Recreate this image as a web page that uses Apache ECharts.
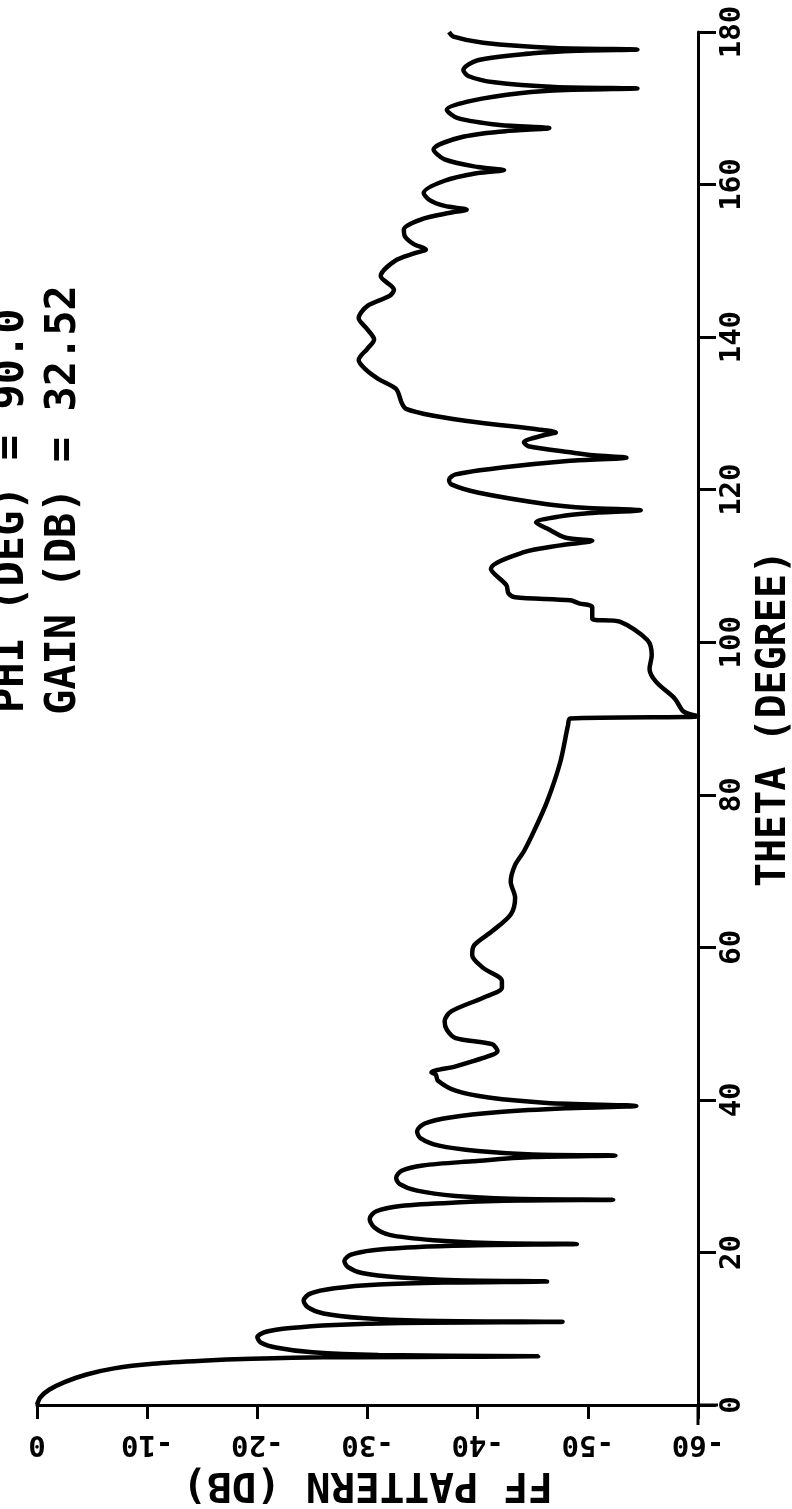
<!DOCTYPE html>
<html><head><meta charset="utf-8">
<script src="https://cdn.jsdelivr.net/npm/echarts@6/dist/echarts.min.js"></script>
<style>html,body{margin:0;padding:0;background:#fff}#c{width:792px;height:1509px}</style>
</head><body><div id="c"></div>
<script>
const thetaDeg = [0,1,2,3,4,4.8,5.4,5.8,6.05,6.25,6.4,6.55,6.9,7.5,8.2,8.9,9.6,10.1,10.5,10.75,10.9,11.05,11.4,12.0,12.8,13.7,14.6,15.3,15.8,16.05,16.2,16.35,16.7,17.3,18.1,18.9,19.7,20.3,20.75,20.95,21.1,21.25,21.6,22.3,23.3,24.4,25.4,26.1,26.55,26.8,26.9,27.05,27.4,28.1,29.0,29.8,30.7,31.4,31.95,32.5,32.7,32.85,33.3,34.0,35.0,35.9,36.9,37.7,38.4,38.9,39.2,39.6,40.3,41.2,42.5,43.3,43.6,44.4,45.5,46.4,47.3,48.1,49.2,50.3,51.6,53.4,54.7,55.6,57.3,59.0,60.3,62.1,64.3,66.5,68.6,70.8,72.6,75.2,79.1,84.3,89.1,90.0,90.3,90.9,92.6,94.8,96.5,98.3,100.3,102.7,103.1,104.6,105.1,105.5,105.9,106.4,107.5,109.6,111.8,112.7,113.3,113.7,114.9,115.7,116.5,116.9,117.3,117.6,118.1,119.6,120.7,121.3,122.0,122.9,123.8,124.2,124.5,124.9,125.7,126.2,127.1,127.5,127.9,128.8,129.7,130.6,131.4,133.2,134.5,135.8,137.0,138.5,139.7,141.0,142.5,144.1,145.4,146.2,148.0,150.0,151.0,151.5,152.2,153.2,154.1,155.5,156.3,156.7,157.2,158.0,158.9,160.5,161.5,161.9,162.3,163.3,164.6,166.2,167.0,167.4,167.8,168.7,169.8,171.0,172.0,172.4,172.6,172.8,173.4,174.2,175.0,176.3,177.2,177.55,177.7,177.9,178.6,179.4,180.0];
const patternDb = [0,-0.3,-1.1,-2.5,-4.5,-7.0,-10.5,-15.0,-19.5,-26,-45.5,-31,-25,-21.8,-20.3,-20.0,-20.8,-23,-27,-33,-47.7,-35,-29.5,-26,-24.6,-24.2,-24.8,-27,-31,-37,-46.3,-38,-33,-29.5,-28.2,-27.9,-28.5,-30.5,-35,-40,-49.0,-41,-36,-32,-30.6,-30.2,-30.8,-33,-38,-44,-52.3,-43,-38,-34.5,-32.9,-32.6,-33.1,-35,-39.5,-45,-52.5,-45,-40,-36.5,-34.8,-34.5,-35.2,-37.5,-42,-48,-54.4,-46.3,-41,-38.0,-36.4,-36.2,-35.8,-38.0,-40.5,-41.8,-41.3,-38.0,-37.2,-37.0,-37.6,-40.5,-42.2,-42.2,-40.5,-39.5,-39.7,-41.3,-43.0,-43.4,-43.0,-43.4,-44.2,-45.1,-46.3,-47.5,-48.2,-48.4,-60,-58.7,-57.9,-56.2,-55.6,-55.8,-55.4,-52.9,-50.4,-50.4,-49.2,-48.4,-43.4,-42.8,-42.6,-41.2,-44.2,-47.5,-50.4,-48.0,-46.3,-45.3,-47.5,-50,-54.8,-50,-46.3,-40.1,-37.6,-37.4,-38.0,-42.2,-48.4,-53.5,-50.5,-48.4,-44.6,-44.2,-45.9,-47.1,-45.5,-40.1,-36.0,-33.5,-33.1,-32.6,-31.0,-29.8,-29.2,-30.0,-30.6,-30.0,-29.2,-30.0,-32.0,-32.4,-31.2,-32.5,-34.3,-35.3,-34.2,-33.4,-33.3,-35.0,-37.5,-39.0,-37.0,-35.6,-35.1,-37.0,-40.0,-42.4,-40.0,-37.0,-36.0,-38.5,-42.5,-46.5,-42.0,-38.2,-37.2,-39.5,-44.0,-48.0,-54.5,-47.0,-41.5,-39.2,-38.7,-40.0,-45.0,-49.0,-54.5,-47.0,-40.5,-37.8,-37.4];
const thetaRange = [0, 180, 20];
const dbRange = [-60, 0, 10];
const titleLines = ['PHI (DEG) = 90.0', 'GAIN (DB) = 32.52'];
const xAxisName = 'FF PATTERN (DB)';
const yAxisName = 'THETA (DEGREE)';

const FONT = '"DejaVu Sans Mono", "Liberation Mono", monospace';
const chart = echarts.init(document.getElementById('c'), null, {renderer: 'canvas'});
const seriesData = thetaDeg.map((t, i) => [patternDb[i], t]);
const axisLineStyle = {color: '#000', width: 3};
chart.setOption({
  animation: false,
  backgroundColor: '#fff',
  grid: {left: 37, right: 94, top: 32, bottom: 104, containLabel: false, outerBoundsMode: 'none'},
  xAxis: {
    type: 'value', min: dbRange[0], max: dbRange[1], interval: dbRange[2], inverse: true,
    position: 'bottom',
    axisLine: {show: true, onZero: false, lineStyle: axisLineStyle},
    axisTick: {show: true, length: 14, lineStyle: axisLineStyle},
    axisLabel: {rotate: 180, margin: 24, color: '#000', fontFamily: FONT, fontWeight: 'bold', fontSize: 29},
    splitLine: {show: false},
    name: xAxisName, nameLocation: 'middle', nameGap: 56, nameRotate: 180,
    nameTextStyle: {color: '#000', fontFamily: FONT, fontWeight: 'bold', fontSize: 41}
  },
  yAxis: {
    type: 'value', min: thetaRange[0], max: thetaRange[1], interval: thetaRange[2],
    position: 'right',
    axisLine: {show: true, onZero: false, lineStyle: axisLineStyle},
    axisTick: {show: true, length: 18, lineStyle: axisLineStyle},
    axisLabel: {rotate: 90, margin: 20, color: '#000', fontFamily: FONT, fontWeight: 'bold', fontSize: 29},
    splitLine: {show: false},
    name: yAxisName, nameLocation: 'middle', nameGap: 50, nameRotate: 90,
    nameTextStyle: {color: '#000', fontFamily: FONT, fontWeight: 'bold', fontSize: 40}
  },
  series: [{
    type: 'line', data: seriesData, showSymbol: false, smooth: 0.3,
    lineStyle: {color: '#000', width: 4.5}
  }]
});
// small overshoot of the two axis lines past their common corner, as in the plot
const corner = chart.convertToPixel({gridIndex: 0}, [dbRange[0], thetaRange[0]]);
chart.setOption({graphic: [
  {id: 'phi', type: 'text', x: 12, y: 713, rotation: Math.PI / 2,
   style: {text: titleLines[0], fill: '#000', font: 'bold 42px ' + FONT, align: 'left', verticalAlign: 'middle'}},
  {id: 'gain', type: 'text', x: 64, y: 715, rotation: Math.PI / 2,
   style: {text: titleLines[1], fill: '#000', font: 'bold 42px ' + FONT, align: 'left', verticalAlign: 'middle'}},
  {id: 'xext', type: 'line', shape: {x1: corner[0], y1: corner[1], x2: corner[0] + 20, y2: corner[1]}, style: {stroke: '#000', lineWidth: 3}},
  {id: 'yext', type: 'line', shape: {x1: corner[0], y1: corner[1], x2: corner[0], y2: corner[1] + 20}, style: {stroke: '#000', lineWidth: 3}}
]});
</script></body></html>
